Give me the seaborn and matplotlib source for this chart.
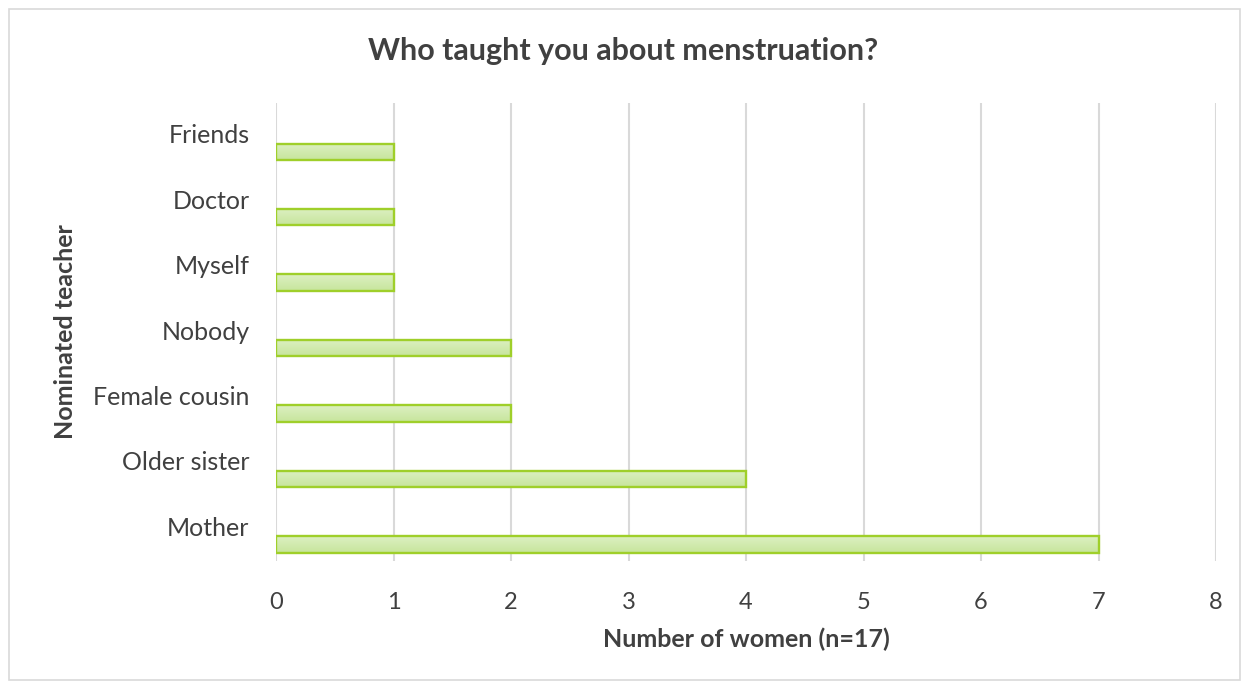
import numpy as np
import pandas as pd
import seaborn as sns
import matplotlib.pyplot as plt
from matplotlib.patches import Rectangle

## data
teachers = ["Friends", "Doctor", "Myself", "Nobody", "Female cousin", "Older sister", "Mother"]
women = [1, 1, 1, 2, 2, 4, 7]
x_ticks = [0, 1, 2, 3, 4, 5, 6, 7, 8]

df = pd.DataFrame({"teacher": teachers, "women": women})

sns.set_style("white")
plt.rcParams['font.family'] = ['Lato', 'DejaVu Sans']

fig = plt.figure(figsize=(12.46, 6.83), dpi=100)
ax = fig.add_axes([0.2215, 0.1786, 0.7545, 0.6706])

sns.barplot(data=df, y="teacher", x="women", order=teachers, orient="h",
            width=0.25, color="#d3ebb0", edgecolor="#9fcf2a", linewidth=1.7,
            ax=ax, zorder=3)

# Excel style: bars sit in the lower part of each category band
grad = np.linspace(0, 1, 50).reshape(-1, 1)
cmap = plt.matplotlib.colors.LinearSegmentedColormap.from_list("g", ["#dcf0c2", "#c7e59c"])
for p in ax.patches:
    p.set_y(p.get_y() + 0.245)
    x0, y0, w, h = p.get_x(), p.get_y(), p.get_width(), p.get_height()
    im = ax.imshow(grad, extent=(x0, x0 + w, y0 + h, y0), aspect="auto",
                   cmap=cmap, zorder=3.5, origin="upper")
    im.set_clip_path(p)
    p.set_zorder(4)
    p.set_facecolor("none")

ax.set_xlim(0, 8)
ax.set_ylim(6.5, -0.5)
ax.set_xticks(x_ticks)
ax.set_xticklabels([str(t) for t in x_ticks])
ax.grid(axis="x", color="#d9d9d9", linewidth=1.5, zorder=0)
ax.grid(axis="y", visible=False)
for s in ax.spines.values():
    s.set_visible(False)
ax.tick_params(axis="x", length=0, pad=22, labelsize=17, labelcolor="#404040")
ax.tick_params(axis="y", length=0, pad=19, labelsize=18, labelcolor="#404040")
for lab in ax.get_yticklabels():
    lab.set_verticalalignment("center")

ax.set_xlabel("Number of women (n=17)", fontsize=18, fontweight="bold",
              color="#404040", labelpad=11)
ax.set_ylabel("Nominated teacher", fontsize=18, fontweight="bold",
              color="#404040", labelpad=12)
fig.text(0.5, 0.925, "Who taught you about menstruation?", ha="center", va="center",
         fontsize=22, fontweight="bold", color="#404040")

fig.patches.append(Rectangle((9 / 1246, 3 / 683), 1231 / 1246, 671 / 683,
                             transform=fig.transFigure, fill=False,
                             edgecolor="#d9d9d9", linewidth=1.2))

plt.savefig("out.png", dpi=100)
